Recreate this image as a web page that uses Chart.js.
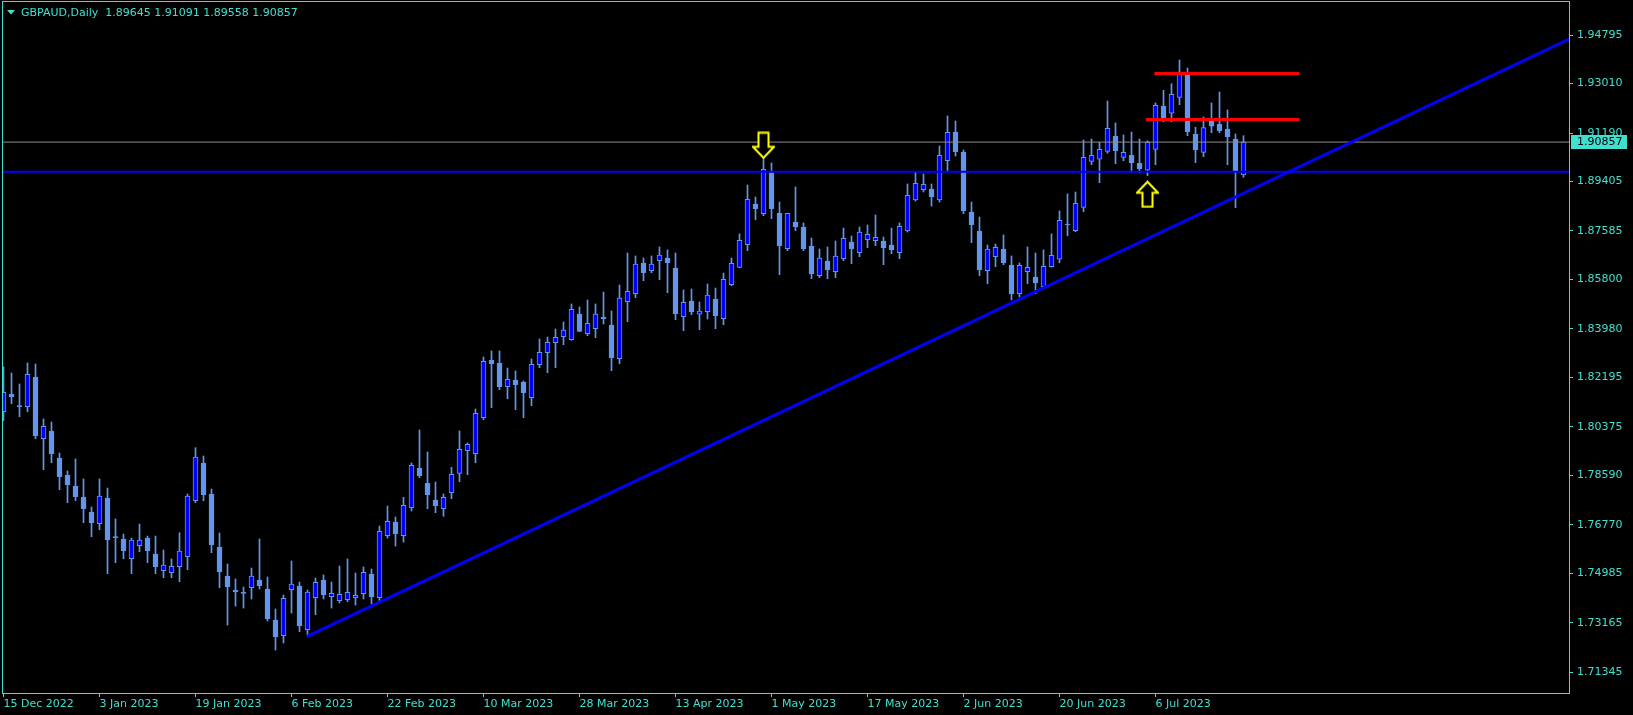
<!DOCTYPE html>
<html><head><meta charset="utf-8">
<script src="https://cdn.jsdelivr.net/npm/chart.js@4.4.1/dist/chart.umd.min.js"></script>
<style>html,body{margin:0;padding:0;background:#000;overflow:hidden}canvas{display:block}</style>
</head><body>
<canvas id="c" width="1633" height="715"></canvas>
<script>
// ---------- data ----------
const symbolTitle = 'GBPAUD,Daily';
const tickLabels = ['15 Dec 2022','3 Jan 2023','19 Jan 2023','6 Feb 2023','22 Feb 2023','10 Mar 2023','28 Mar 2023','13 Apr 2023','1 May 2023','17 May 2023','2 Jun 2023','20 Jun 2023','6 Jul 2023'];
const barsPerLabel = 12;
const yTicks = [1.94795,1.93010,1.91190,1.89405,1.87585,1.85800,1.83980,1.82195,1.80375,1.78590,1.76770,1.74985,1.73165,1.71345];

const opens = [
1.80930,1.81571,1.81140,1.81114,1.82208,1.79937,1.80220,1.79226,1.78600,1.78195,
1.77790,1.77238,1.76807,1.77753,1.76317,1.76244,1.75519,1.75997,1.76280,1.75692,
1.75077,1.75004,1.75224,1.75592,1.77654,1.79042,1.77901,1.75949,1.74882,1.74366,
1.74245,1.74451,1.74734,1.74403,1.73262,1.72684,1.74377,1.74513,1.72905,1.74083,
1.74734,1.74119,1.73972,1.74009,1.74083,1.74230,1.74956,1.74083,1.76365,1.76869,
1.76365,1.77397,1.78846,1.78295,1.77680,1.77360,1.77949,1.78663,1.79495,1.79385,
1.80710,1.82823,1.82724,1.81851,1.82098,1.82024,1.81446,1.82661,1.83103,1.83471,
1.83691,1.83581,1.84528,1.83802,1.83987,1.84417,1.84123,1.82882,1.84980,1.85275,
1.86405,1.86121,1.86489,1.86589,1.86220,1.84428,1.85006,1.84517,1.84612,1.85080,
1.84355,1.85606,1.86246,1.87079,1.88577,1.88220,1.89730,1.88235,1.86932,1.87914,
1.87730,1.87031,1.85937,1.86478,1.86084,1.86564,1.87178,1.86785,1.87263,1.87226,
1.87215,1.87068,1.86785,1.87583,1.88724,1.89104,1.89130,1.88724,1.90171,1.91227,
1.90491,1.88282,1.87583,1.86121,1.86637,1.86921,1.86331,1.85275,1.86084,1.85889,
1.85532,1.86268,1.86542,1.87815,1.87594,1.88455,1.90149,1.90223,1.90517,1.91069,
1.90296,1.90370,1.90076,1.89818,1.90591,1.92174,1.91917,1.92505,1.93352,1.91143,
1.90480,1.91622,1.91523,1.91339,1.90959,1.89645];
const highs = [
1.82587,1.82356,1.81951,1.82724,1.82687,1.80662,1.80551,1.79411,1.78747,1.79190,
1.78453,1.77422,1.78453,1.78121,1.76981,1.76428,1.76280,1.76796,1.76354,1.76354,
1.75839,1.75508,1.76476,1.77901,1.79606,1.79300,1.78085,1.76465,1.75324,1.74772,
1.74476,1.75176,1.76244,1.74845,1.73667,1.74182,1.75434,1.74660,1.74366,1.74808,
1.74919,1.74660,1.75250,1.75508,1.74993,1.75213,1.75140,1.76722,1.77459,1.77054,
1.77779,1.79042,1.80257,1.79447,1.78342,1.77901,1.78883,1.80220,1.79779,1.81030,
1.82944,1.83165,1.83165,1.82539,1.82429,1.82061,1.82871,1.83607,1.83680,1.83976,
1.84233,1.84896,1.84785,1.85043,1.84896,1.85337,1.84638,1.85595,1.86774,1.86663,
1.86589,1.86663,1.86994,1.86884,1.86774,1.85411,1.85448,1.84969,1.85632,1.85484,
1.86037,1.86589,1.87473,1.89277,1.88835,1.90270,1.90087,1.88650,1.88240,1.89203,
1.87878,1.87325,1.86921,1.86994,1.87215,1.87693,1.87399,1.87730,1.87804,1.88172,
1.87362,1.87693,1.87878,1.89314,1.89755,1.89682,1.89314,1.90712,1.91817,1.91633,
1.90565,1.88650,1.88098,1.87068,1.87105,1.87436,1.86663,1.86405,1.86994,1.86774,
1.86884,1.87473,1.88319,1.88946,1.89019,1.90933,1.90970,1.90848,1.92369,1.91560,
1.91117,1.91227,1.90970,1.90907,1.92296,1.92763,1.93006,1.93878,1.93583,1.91401,
1.91780,1.92296,1.92700,1.92038,1.91154,1.91091];
const lows = [
1.80599,1.81225,1.80746,1.80930,1.79937,1.78795,1.79053,1.78059,1.77581,1.77654,
1.76844,1.76328,1.76586,1.74967,1.75372,1.75519,1.74967,1.75776,1.75372,1.74967,
1.74820,1.74820,1.74671,1.75114,1.77581,1.77654,1.75740,1.74451,1.73078,1.73777,
1.73703,1.74035,1.74403,1.73225,1.72157,1.72416,1.73520,1.72831,1.72684,1.73457,
1.74035,1.73703,1.73888,1.73935,1.73814,1.74035,1.73851,1.73972,1.76280,1.75986,
1.76133,1.77275,1.78501,1.77360,1.77213,1.77080,1.77728,1.78353,1.78611,1.79053,
1.80636,1.81078,1.81741,1.81409,1.81004,1.80710,1.81151,1.82551,1.82367,1.82551,
1.83397,1.83560,1.83875,1.83728,1.83655,1.84160,1.82440,1.82698,1.84244,1.85128,
1.85753,1.86048,1.85790,1.85312,1.84318,1.83912,1.84502,1.83950,1.84344,1.83987,
1.84134,1.85569,1.86230,1.86858,1.87999,1.88146,1.88036,1.85974,1.86858,1.87594,
1.86858,1.85827,1.85864,1.85827,1.85864,1.86489,1.86379,1.86637,1.86969,1.87042,
1.86342,1.86748,1.86564,1.87546,1.88687,1.89019,1.88503,1.88650,1.89803,1.90344,
1.88220,1.87153,1.85937,1.85643,1.86268,1.86342,1.85043,1.85153,1.85643,1.85275,
1.85473,1.86250,1.86416,1.87410,1.87557,1.88293,1.90024,1.89362,1.90443,1.90061,
1.90171,1.89730,1.89730,1.89619,1.90024,1.91607,1.91607,1.92233,1.91091,1.90098,
1.90318,1.91202,1.91202,1.90024,1.88441,1.89558];
const closes = [
1.81644,1.81482,1.81118,1.82308,1.80036,1.80393,1.79385,1.78537,1.78232,1.77801,
1.77360,1.76844,1.77827,1.76207,1.76295,1.75813,1.76207,1.76207,1.75813,1.75224,
1.75287,1.75239,1.75802,1.77827,1.79263,1.77875,1.76023,1.75029,1.74487,1.74292,
1.74240,1.74882,1.74524,1.73299,1.72636,1.74061,1.74587,1.73041,1.74292,1.74649,
1.74193,1.74245,1.74208,1.74281,1.74171,1.75018,1.74108,1.76527,1.76895,1.76439,
1.77485,1.78957,1.78574,1.77875,1.77470,1.77779,1.78626,1.79547,1.79731,1.80872,
1.82786,1.82698,1.81851,1.82124,1.81925,1.81630,1.82676,1.83117,1.83485,1.83669,
1.83938,1.84701,1.83890,1.84186,1.84528,1.84355,1.82919,1.85116,1.85363,1.86368,
1.86048,1.86368,1.86700,1.86416,1.84539,1.84958,1.84601,1.84638,1.85227,1.84465,
1.85805,1.86394,1.87241,1.88751,1.88404,1.89855,1.88404,1.87042,1.88230,1.87741,
1.86932,1.86011,1.86589,1.86158,1.86663,1.87314,1.86921,1.87546,1.87462,1.87351,
1.86969,1.86884,1.87756,1.88898,1.89340,1.89303,1.88835,1.90370,1.91216,1.90502,
1.88319,1.87815,1.86158,1.86921,1.86983,1.86416,1.85264,1.86320,1.86246,1.85669,
1.86283,1.86689,1.87977,1.87805,1.88603,1.90296,1.90370,1.90591,1.91364,1.90539,
1.90480,1.90098,1.89877,1.90848,1.92211,1.91732,1.92616,1.93436,1.91238,1.90576,
1.91387,1.91438,1.91275,1.91054,1.89766,1.90857];

// drawn objects, in (bar index, price) coordinates
const bidPrice = 1.90857;
const levelPrice = 1.89762;
const trendPoints = [{x:37.9, y:1.72648}, {x:195.7, y:1.94650}];
const redTop = [{x:143.85, y:1.93385}, {x:162.0, y:1.93385}];
const redLow = [{x:142.8, y:1.91690}, {x:162.0, y:1.91690}];
const downArrowAt = [{x:95, y:1.90738}];
const upArrowAt = [{x:143, y:1.88935}];

// ---------- styles ----------
const AX = '#40E0D0', BULL = '#0000FF', BEAR = '#6495ED';
const FONT = {family:'DejaVu Sans', size:11};

function arrowImg(down){
  const c = document.createElement('canvas'); c.width = 23; c.height = 28;
  const g = c.getContext('2d');
  const pts = [[6.5,1.5],[16.5,1.5],[16.5,15.5],[22,15.5],[11.5,26.5],[1,15.5],[6.5,15.5]];
  g.beginPath();
  pts.forEach(([x,y],k)=>{ const yy = down ? y : 28 - y; k ? g.lineTo(x,yy) : g.moveTo(x,yy); });
  g.closePath();
  g.fillStyle = '#000'; g.fill();
  g.strokeStyle = '#FFFF00'; g.lineWidth = 2; g.lineJoin = 'miter'; g.stroke();
  return c;
}

const idx = opens.map((_,i)=>i);
const isBull = i => i !== undefined && closes[i] >= opens[i];

const chrome = {
  id:'chrome',
  beforeDraw(chart){
    const {ctx} = chart;
    ctx.save(); ctx.fillStyle = '#000'; ctx.fillRect(0,0,chart.width,chart.height); ctx.restore();
  },
  afterDraw(chart){
    const {ctx, chartArea:a, scales:{y}} = chart;
    ctx.save();
    ctx.strokeStyle = AX; ctx.lineWidth = 1;
    ctx.strokeRect(a.left+0.5, a.top+0.5, a.right-a.left, a.bottom-a.top);
    // header
    ctx.fillStyle = AX;
    ctx.beginPath(); ctx.moveTo(7,10); ctx.lineTo(15,10); ctx.lineTo(11,14.5); ctx.closePath(); ctx.fill();
    ctx.font = '11px "DejaVu Sans"'; ctx.textBaseline = 'middle'; ctx.textAlign = 'left';
    const last = opens.length - 1;
    ctx.fillText(symbolTitle + '  ' + [opens[last],highs[last],lows[last],closes[last]].map(v=>v.toFixed(5)).join(' '), 21, 13);
    // bid price box
    const py = Math.round(y.getPixelForValue(bidPrice));
    ctx.fillStyle = AX; ctx.fillRect(a.right+2, py-7, 56, 14);
    ctx.fillStyle = '#000'; ctx.fillText(bidPrice.toFixed(5), a.right+8, py+0.5);
    ctx.restore();
  }
};

function noPad(s){ s.paddingTop = 0; s.paddingBottom = 0; s.paddingLeft = 0; s.paddingRight = 0; }

new Chart(document.getElementById('c'), {
  type:'bar',
  data:{ datasets:[
    {type:'bar', label:'wicks', data: idx.map(i=>({x:i, y:[lows[i], highs[i]]})),
     backgroundColor:BEAR, borderWidth:0, barThickness:1, grouped:false, minBarLength:1, order:10, clip:0},
    {type:'bar', label:'bodies', data: idx.map(i=>({x:i, y:[opens[i], closes[i]]})),
     backgroundColor: c => isBull(c.dataIndex) ? BULL : BEAR, borderColor:BEAR, borderWidth:1,
     borderSkipped:false, barThickness:5, grouped:false, minBarLength:1, order:9, clip:0},
    {type:'line', label:'bid', data:[{x:-5,y:bidPrice},{x:300,y:bidPrice}], borderColor:'#8c8c8c', borderWidth:1, pointRadius:0, order:6, clip:0},
    {type:'line', label:'level', data:[{x:-5,y:levelPrice},{x:300,y:levelPrice}], borderColor:'#0000FF', borderWidth:2, pointRadius:0, order:5, clip:0},
    {type:'line', label:'trend', data:trendPoints, borderColor:'#0000FF', borderWidth:3, pointRadius:0, order:4, clip:0},
    {type:'line', label:'resTop', data:redTop, borderColor:'#FF0000', borderWidth:3, pointRadius:0, order:3, clip:0},
    {type:'line', label:'resLow', data:redLow, borderColor:'#FF0000', borderWidth:3, pointRadius:0, order:3, clip:0},
    {type:'scatter', label:'down', data:downArrowAt, pointStyle:arrowImg(true), pointRadius:1, order:1, clip:false},
    {type:'scatter', label:'up', data:upArrowAt, pointStyle:arrowImg(false), pointRadius:1, order:1, clip:false}
  ]},
  options:{
    responsive:false, animation:false, events:[],
    layout:{padding:{left:2, top:1, right:0, bottom:0}, autoPadding:false},
    plugins:{legend:{display:false}, tooltip:{enabled:false}},
    scales:{
      x:{ type:'linear', min:-0.1875, max:195.6875, offset:false,
          afterFit(s){ s.height = 22; noPad(s); },
          afterBuildTicks(s){ s.ticks = tickLabels.map((_,k)=>({value:k*barsPerLabel})); },
          ticks:{ color:AX, font:FONT, padding:1, autoSkip:false, maxRotation:0, minRotation:0, align:'start',
                  callback:v => tickLabels[Math.round(v/barsPerLabel)] },
          grid:{ drawOnChartArea:false, drawTicks:true, tickLength:4, tickColor:AX, color:AX, offset:false },
          border:{ display:true, color:AX, width:1 } },
      y:{ type:'linear', position:'right', min:1.705754, max:1.960503,
          afterFit(s){ s.width = 64; noPad(s); },
          afterBuildTicks(s){ s.ticks = yTicks.map(v=>({value:v})); },
          ticks:{ color:AX, font:FONT, padding:4, autoSkip:false, callback:v => Number(v).toFixed(5) },
          grid:{ drawOnChartArea:false, drawTicks:true, tickLength:4, tickColor:AX, color:AX },
          border:{ display:true, color:AX, width:1 } }
    }
  },
  plugins:[chrome]
});
</script>
</body></html>
